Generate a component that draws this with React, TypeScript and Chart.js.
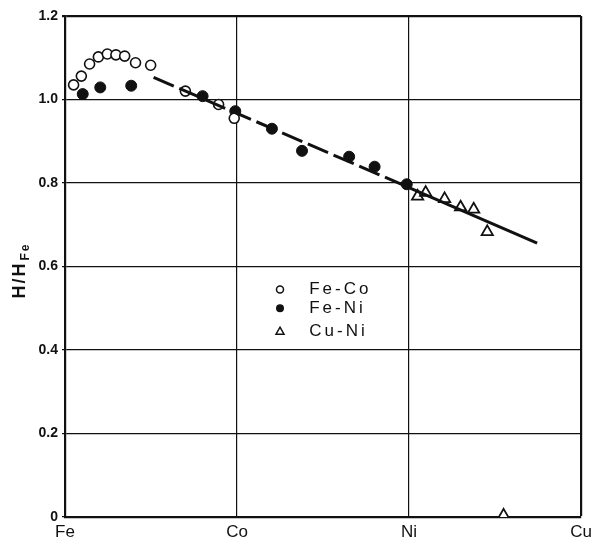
import React, { useEffect, useRef } from 'react';
import { Chart, registerables } from 'chart.js';
Chart.register(...registerables);

const categories = ['Fe', 'Co', 'Ni', 'Cu'];
const yTickValues = [0, 0.2, 0.4, 0.6, 0.8, 1.0, 1.2];

const feCoX = [0.05, 0.095, 0.143, 0.194, 0.246, 0.296, 0.347, 0.41, 0.498, 0.70, 0.893, 0.984];
const feCoY = [1.035, 1.056, 1.085, 1.102, 1.109, 1.107, 1.104, 1.088, 1.082, 1.02, 0.988, 0.955];

const feNiX = [0.103, 0.205, 0.385, 0.80, 0.99, 1.203, 1.378, 1.652, 1.80, 1.987];
const feNiY = [1.013, 1.029, 1.033, 1.008, 0.972, 0.930, 0.877, 0.863, 0.839, 0.797];

const cuNiX = [2.05, 2.097, 2.207, 2.30, 2.376, 2.455, 2.55];
const cuNiY = [0.768, 0.777, 0.762, 0.742, 0.737, 0.683, 0.004];

const fitX = [0.515, 2.0, 2.745];
const fitY = [1.053, 0.789, 0.656];

const legendLabels = ['Fe-Co', 'Fe-Ni', 'Cu-Ni'];

const zip = (xs: number[], ys: number[]) => xs.map((x, i) => ({ x, y: ys[i] }));

const overlayPlugin = {
  id: 'overlay',
  afterDraw(chart: any) {
    const ctx = chart.ctx as CanvasRenderingContext2D;
    const area = chart.chartArea;
    // y axis title H/H_Fe
    ctx.save();
    ctx.translate(19, (area.top + area.bottom) / 2 + 4);
    ctx.rotate(-Math.PI / 2);
    ctx.fillStyle = '#111';
    ctx.textBaseline = 'alphabetic';
    (ctx as any).letterSpacing = '2px';
    ctx.font = 'bold 18px "Liberation Sans", Arial, sans-serif';
    const main = 'H/H';
    const w = ctx.measureText(main).width;
    ctx.font = 'bold 12px "Liberation Sans", Arial, sans-serif';
    const ws = ctx.measureText('Fe').width;
    const total = w + ws + 1;
    ctx.font = 'bold 18px "Liberation Sans", Arial, sans-serif';
    ctx.fillText(main, -total / 2, 6);
    ctx.font = 'bold 12px "Liberation Sans", Arial, sans-serif';
    ctx.fillText('Fe', -total / 2 + w + 1, 10);
    ctx.restore();

    // legend inside plot
    const xs = chart.scales.x;
    const ys = chart.scales.y;
    const mx = xs.getPixelForValue(1.25);
    const tx = xs.getPixelForValue(1.42);
    const rows = [0.545, 0.5, 0.445].map((v) => ys.getPixelForValue(v));
    ctx.save();
    ctx.fillStyle = '#111';
    ctx.strokeStyle = '#111';
    ctx.lineWidth = 1.5;
    ctx.font = '17px "Liberation Sans", Arial, sans-serif';
    (ctx as any).letterSpacing = '3px';
    ctx.textBaseline = 'middle';
    rows.forEach((ry, i) => {
      ctx.beginPath();
      if (i === 0) {
        ctx.arc(mx, ry, 3.5, 0, Math.PI * 2);
        ctx.stroke();
      } else if (i === 1) {
        ctx.arc(mx, ry, 4, 0, Math.PI * 2);
        ctx.fill();
      } else {
        ctx.moveTo(mx, ry - 4);
        ctx.lineTo(mx + 4, ry + 3);
        ctx.lineTo(mx - 4, ry + 3);
        ctx.closePath();
        ctx.stroke();
      }
      ctx.fillText(legendLabels[i], tx, ry);
    });
    ctx.restore();
  },
};

export default function App() {
  const ref = useRef<HTMLCanvasElement | null>(null);
  useEffect(() => {
    document.body.style.margin = '0';
    const canvas = ref.current!;
    const chart = new Chart(canvas, {
      type: 'scatter',
      data: {
        datasets: [
          {
            label: 'fit',
            type: 'line',
            data: zip(fitX, fitY),
            borderColor: '#111',
            borderWidth: 3,
            pointRadius: 0,
            fill: false,
            segment: {
              borderDash: (c: any) => (c.p0DataIndex === 0 ? [22, 6] : []),
            },
          } as any,
          {
            label: legendLabels[0],
            data: zip(feCoX, feCoY),
            pointStyle: 'circle',
            pointRadius: 5,
            backgroundColor: '#fff',
            borderColor: '#111',
            borderWidth: 1.6,
          },
          {
            label: legendLabels[1],
            data: zip(feNiX, feNiY),
            pointStyle: 'circle',
            pointRadius: 5.5,
            backgroundColor: '#111',
            borderColor: '#111',
            borderWidth: 1,
          },
          {
            label: legendLabels[2],
            data: zip(cuNiX, cuNiY),
            pointStyle: 'triangle',
            pointRadius: 6.5,
            backgroundColor: '#fff',
            borderColor: '#111',
            borderWidth: 1.8,
          },
        ],
      },
      options: {
        animation: false,
        responsive: false,
        maintainAspectRatio: false,
        layout: { padding: { top: 16, right: 16, left: 0, bottom: 0 } },
        plugins: { legend: { display: false }, tooltip: { enabled: false } },
        scales: {
          x: {
            type: 'linear',
            min: 0,
            max: 3,
            afterFit: (s: any) => { s.height = 21; },
            afterBuildTicks: (s: any) => { s.ticks = categories.map((_, i) => ({ value: i })); },
            ticks: {
              autoSkip: false,
              maxRotation: 0,
              padding: 5,
              color: '#111',
              font: { size: 17, family: '"Liberation Sans", Arial, sans-serif' },
              callback: (v: any) => categories[Math.round(v)],
            },
            grid: {
              color: '#111',
              lineWidth: (c: any) => (c.tick && c.tick.value === 3 ? 2.2 : 1.2),
              drawTicks: false,
            },
            border: { color: '#111', width: 2.2 },
          },
          y: {
            min: 0,
            max: 1.2,
            afterFit: (s: any) => { s.width = 65; },
            afterBuildTicks: (s: any) => { s.ticks = yTickValues.map((v) => ({ value: v })); },
            ticks: {
              padding: 4,
              color: '#111',
              font: { size: 14, weight: 'bold', family: '"Liberation Sans", Arial, sans-serif' },
              callback: (v: any) => (Math.abs(v) < 1e-9 ? '0' : Number(v).toFixed(1)),
            },
            grid: {
              color: '#111',
              lineWidth: (c: any) => (c.tick && Math.abs(c.tick.value - 1.2) < 1e-6 ? 2.2 : 1.2),
              tickLength: 3,
            },
            border: { color: '#111', width: 2.2 },
          },
        },
      },
      plugins: [overlayPlugin],
    } as any);
    return () => chart.destroy();
  }, []);
  return <canvas ref={ref} width={597} height={538} style={{ display: 'block' }} />;
}
